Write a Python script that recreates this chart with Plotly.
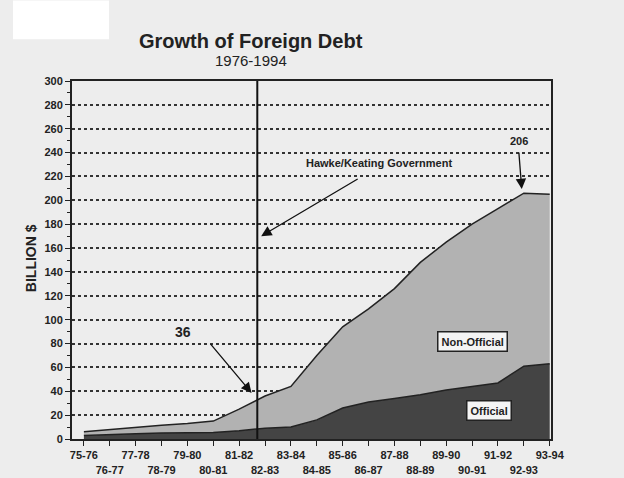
import plotly.graph_objects as go

years = ["75-76", "76-77", "77-78", "78-79", "79-80", "80-81", "81-82", "82-83", "83-84",
         "84-85", "85-86", "86-87", "87-88", "88-89", "89-90", "90-91", "91-92", "92-93", "93-94"]
official = [3, 4, 4.5, 5, 5, 5.5, 7, 9, 10, 16, 26, 31, 34, 37, 41, 44, 47, 61, 63]
total = [6, 8, 10, 11.5, 13, 15, 25, 36, 44, 70, 94, 109, 126, 148, 165, 180, 193, 206, 205]
y_ticks = list(range(0, 301, 20))

xs = list(range(len(years)))
ticktext = [y if i % 2 == 0 else "<br>" + y for i, y in enumerate(years)]

FONT = "Liberation Sans Narrow, Arial Narrow, Liberation Sans, Arial, sans-serif"
BG = "#ededed"

fig = go.Figure()
fig.add_trace(go.Scatter(x=xs, y=official, mode="lines", fill="tozeroy",
                         line=dict(color="#222222", width=1.5), fillcolor="#444444",
                         hoverinfo="skip", showlegend=False))
fig.add_trace(go.Scatter(x=xs, y=total, mode="lines", fill="tonexty",
                         line=dict(color="#222222", width=1.5), fillcolor="#b2b2b2",
                         hoverinfo="skip", showlegend=False))

# Hawke/Keating vertical line
fig.add_shape(type="line", x0=6.7, x1=6.7, y0=0, y1=300, xref="x", yref="y",
              line=dict(color="#111111", width=2), layer="above")

ann = []
# Hawke/Keating
ann.append(dict(x=6.85, y=170, xref="x", yref="y", text="", showarrow=True,
                ax=98, ay=-58, arrowhead=2, arrowsize=1.6, arrowwidth=1.3, arrowcolor="#111"))
ann.append(dict(x=11.41, y=231, xref="x", yref="y", text="Hawke/Keating Government",
                showarrow=False, font=dict(family=FONT, size=11, color="#222", weight="bold")))
# 36
ann.append(dict(x=6.48, y=38.6, xref="x", yref="y", text="", showarrow=True,
                ax=-42, ay=-50, arrowhead=2, arrowsize=1.6, arrowwidth=1.3, arrowcolor="#111"))
ann.append(dict(x=3.82, y=89.4, xref="x", yref="y", text="36",
                showarrow=False, font=dict(family=FONT, size=14, color="#222", weight="bold")))
# 206
ann.append(dict(x=16.92, y=209.4, xref="x", yref="y", text="", showarrow=True,
                ax=-3, ay=-38, arrowhead=2, arrowsize=1.6, arrowwidth=1.3, arrowcolor="#111"))
ann.append(dict(x=16.8, y=249.4, xref="x", yref="y", text="206",
                showarrow=False, font=dict(family=FONT, size=11, color="#222", weight="bold")))
# boxes
ann.append(dict(x=15.0, y=82, xref="x", yref="y", text="Non-Official", showarrow=False,
                bgcolor="#f4f4f4", bordercolor="#222", borderwidth=1.5, borderpad=3,
                font=dict(family=FONT, size=11, color="#222", weight="bold")))
ann.append(dict(x=15.65, y=23.6, xref="x", yref="y", text="Official", showarrow=False,
                bgcolor="#f4f4f4", bordercolor="#222", borderwidth=1.5, borderpad=3,
                font=dict(family=FONT, size=11, color="#222", weight="bold")))
# titles
ann.append(dict(x=0.374, y=1.147, xref="paper", yref="paper", text="Growth of Foreign Debt",
                showarrow=False, font=dict(family="Liberation Sans, Arial, sans-serif", size=20,
                                           color="#222", weight="bold")))
ann.append(dict(x=0.374, y=1.086, xref="paper", yref="paper", text="1976-1994",
                showarrow=False, font=dict(family="Liberation Sans, Arial, sans-serif", size=15,
                                           color="#222")))
ann.append(dict(x=-0.085, y=0.506, xref="paper", yref="paper", text="BILLION $", textangle=-90,
                xanchor="center", yanchor="middle", showarrow=False,
                font=dict(family="Liberation Sans, Arial, sans-serif", size=14,
                          color="#222", weight="bold")))

# white box top-left
fig.add_shape(type="rect", xref="paper", yref="paper", x0=(13 - 72) / 479, x1=(109 - 72) / 479,
              y0=(439.3 - 39) / 358.6, y1=(439.3 - 0) / 358.6, fillcolor="white",
              line=dict(width=0), layer="above")

fig.update_layout(
    width=624, height=478,
    margin=dict(l=72, r=73, t=81, b=39, autoexpand=False),
    paper_bgcolor=BG, plot_bgcolor=BG,
    annotations=ann,
    xaxis=dict(range=[-0.46, 18.05], tickvals=xs, ticktext=ticktext, ticks="outside",
               tickangle=0, automargin=False,
               ticklen=5, tickcolor="#222", showgrid=False, zeroline=False,
               showline=True, linecolor="#222", linewidth=2, mirror=True,
               tickfont=dict(family=FONT, size=11, color="#222", weight="bold")),
    yaxis=dict(range=[0, 300], tickvals=y_ticks, ticks="outside", ticklen=5,
               automargin=False,
               tickcolor="#222", showgrid=True, gridcolor="#333", griddash="dot",
               gridwidth=1.5, zeroline=False, showline=True, linecolor="#222",
               linewidth=2, mirror=True,
               minor=dict(dtick=10, ticks="outside", ticklen=3, tickcolor="#222", showgrid=False),
               tickfont=dict(family=FONT, size=11, color="#222", weight="bold")),
)

fig.write_html("out.html", config={"displayModeBar": False},
               post_script="document.body.style.margin='0';document.body.style.background='%s';" % BG)
